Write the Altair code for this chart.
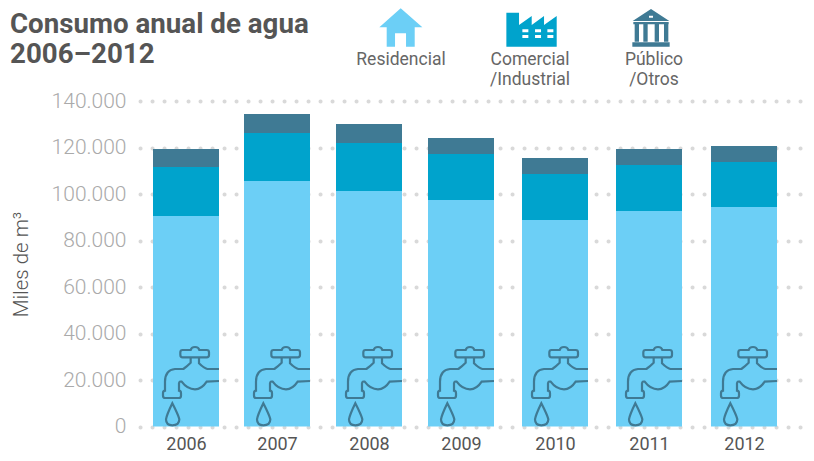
import re
import altair as alt
import pandas as pd

years = [2006, 2007, 2008, 2009, 2010, 2011, 2012]
residencial = [90500, 105600, 101300, 97400, 88800, 92700, 94400]
comercial = [21100, 20600, 20600, 19800, 19800, 19800, 19400]
publico = [7800, 8200, 8200, 6900, 6900, 6900, 6800]
y_ticks = [0, 20000, 40000, 60000, 80000, 100000, 120000, 140000]
series_names = ["Residencial", "Comercial", "Publico"]
series_colors = ["#6CCFF6", "#00A3CC", "#3F7A94"]
x_domain = [2005.5] + years + [2012.62]
x_range = [0, 46, 137, 229, 321, 415, 509, 604, 666]

TEXT = "#555555"
FONT = "Roboto"


def norm(path, cx, cy, half):
    """Rescale an icon outline to the -1..1 box Vega expects for custom shapes."""
    out, is_x = [], True
    for tok in re.findall(r"[A-Za-z]|-?[\d.]+", path):
        if tok.isalpha():
            out.append(tok)
            is_x = True
        else:
            v = (float(tok) - (cx if is_x else cy)) / half
            out.append(f"{v:.4f}")
            is_x = not is_x
    return " ".join(out)


FAUCET = norm(
    "M357 117 L322 117 Q312 115 297 100 L297 82 L248 82 Q241 82 241 74 L241 67 Q241 60 248 60 "
    "L272 60 Q274 51 285 51 Q296 51 298 60 L320 60 Q327 60 327 67 L327 74 Q327 82 320 82 L272 82 "
    "L272 98 Q262 108 250 117 L225 117 Q195 120 195 155 L195 182 Q189 182 189 190 L189 197 "
    "Q189 204 196 204 L236 204 Q243 204 243 197 L243 190 Q243 182 237 182 L237 160 Q238 153 245 155 "
    "Q262 178 285 178 Q305 178 320 155 L357 153 "
    "M217 220 Q200 255 198 268 Q198 286 217 286 Q238 286 238 268 Q235 255 217 220 Z",
    258, 150, 90,
)
HOUSE = norm(
    "M182 25 L247 82 L224 82 L224 140 L198 140 L198 100 L165 100 L165 140 L140 140 L140 82 L118 82 Z",
    182, 82, 90,
)


def hole(x0, y0, x1, y1):
    return f"M{x0} {y0} L{x0} {y1} L{x1} {y1} L{x1} {y0} Z "


FACTORY = norm(
    "M499 38 L537 38 L537 75 L575 48 L575 75 L612 48 L612 75 L650 48 L650 140 L499 140 Z "
    + "".join(hole(x, y, x + 18, y + 9) for x in (547, 585, 622) for y in (88, 105)),
    575, 90, 90,
)
BANK = norm(
    "M933 27 L988 63 L878 63 Z M927 47 L927 53 L939 53 L939 47 Z "
    "M880 66 L986 66 L986 73 L880 73 Z "
    "M884 73 L897 73 L897 125 L884 125 Z M910 73 L923 73 L923 125 L910 125 Z "
    "M944 73 L957 73 L957 125 L944 125 Z M972 73 L985 73 L985 125 L972 125 Z "
    "M877 127 L989 127 L989 140 L877 140 Z",
    933, 85, 90,
)

rows = []
for i, yr in enumerate(years):
    rows.append({"year": yr, "serie": "Residencial", "value": residencial[i]})
    rows.append({"year": yr, "serie": "Comercial", "value": comercial[i]})
    rows.append({"year": yr, "serie": "Publico", "value": publico[i]})
df = pd.DataFrame(rows)
df["order"] = df["serie"].map({n: i for i, n in enumerate(series_names)})

x_enc = alt.X(
    "year:Q",
    scale=alt.Scale(domain=x_domain, range=x_range, nice=False, zero=False, padding=0),
    axis=alt.Axis(
        values=years, format="d", title=None, domain=False, ticks=False, grid=False,
        labelFont=FONT, labelFontSize=18, labelColor=TEXT, labelPadding=9,
        labelFontWeight=400, labelOverlap=False,
    ),
)

bars = alt.Chart(df).mark_bar(orient="vertical", width=66).encode(
    x=x_enc,
    y=alt.Y(
        "value:Q",
        stack="zero",
        scale=alt.Scale(domain=[0, 140000], nice=False),
        axis=alt.Axis(
            values=y_ticks, title="Miles de m³", domain=False, ticks=False,
            labelExpr="replace(format(datum.value, ','), ',', '.')",
            labelFont=FONT, labelFontSize=21, labelFontWeight=300, labelColor="#aaaaaa",
            labelPadding=14, titleFont=FONT, titleFontSize=20.5, titleFontWeight=300,
            titleColor=TEXT, titleX=-109, titleY=163,
            grid=True, gridColor="#d9d9d9", gridWidth=4, gridCap="round", gridDash=[0.1, 11.9],
        ),
    ),
    color=alt.Color("serie:N", scale=alt.Scale(domain=series_names, range=series_colors), legend=None),
    order=alt.Order("order:Q"),
)

faucets = alt.Chart(pd.DataFrame({"year": years})).mark_point(
    shape=FAUCET, filled=False, stroke="#3F7A94", strokeWidth=2.2, size=3600, opacity=1
).encode(x=alt.X("year:Q"), y=alt.datum(20000))


def icon(shape, color, px, py):
    return alt.Chart(pd.DataFrame({"k": [0]})).mark_point(
        shape=shape, filled=True, fill=color, size=3600, opacity=1, strokeWidth=0
    ).encode(x=alt.value(px - 140), y=alt.value(py - 101))


def label(text, px, py, size, color=TEXT, weight=300, align="center"):
    return alt.Chart(pd.DataFrame({"t": [text]})).mark_text(
        font=FONT, fontSize=size, fontWeight=weight, color=color, align=align, baseline="alphabetic"
    ).encode(x=alt.value(px - 140), y=alt.value(py - 101), text="t:N")


layers = [
    bars, faucets,
    icon(HOUSE, "#6CCFF6", 400.7, 27.3),
    icon(FACTORY, "#00A3CC", 531.7, 30),
    icon(BANK, "#3F7A94", 651, 28.3),
    label("Consumo anual de agua", 10, 33, 27.7, weight=700, align="left"),
    label("2006–2012", 10, 63, 27.7, weight=700, align="left"),
    label("Residencial", 401, 65, 17.5, weight=400, color="#666666"),
    label("Comercial", 530, 65, 17.5, weight=400, color="#666666"),
    label("/Industrial", 530, 85, 17.5, weight=400, color="#666666"),
    label("Público", 654, 65, 17.5, weight=400, color="#666666"),
    label("/Otros", 654, 85, 17.5, weight=400, color="#666666"),
]

chart = alt.layer(*layers).properties(
    width=666, height=325.5,
    padding={"left": 132, "top": 93, "right": 0, "bottom": 26.5},
    autosize=alt.AutoSizeParams(type="none"),
).configure_view(stroke=None)

chart.save("out.html", embed_options={"renderer": "svg", "actions": False})
